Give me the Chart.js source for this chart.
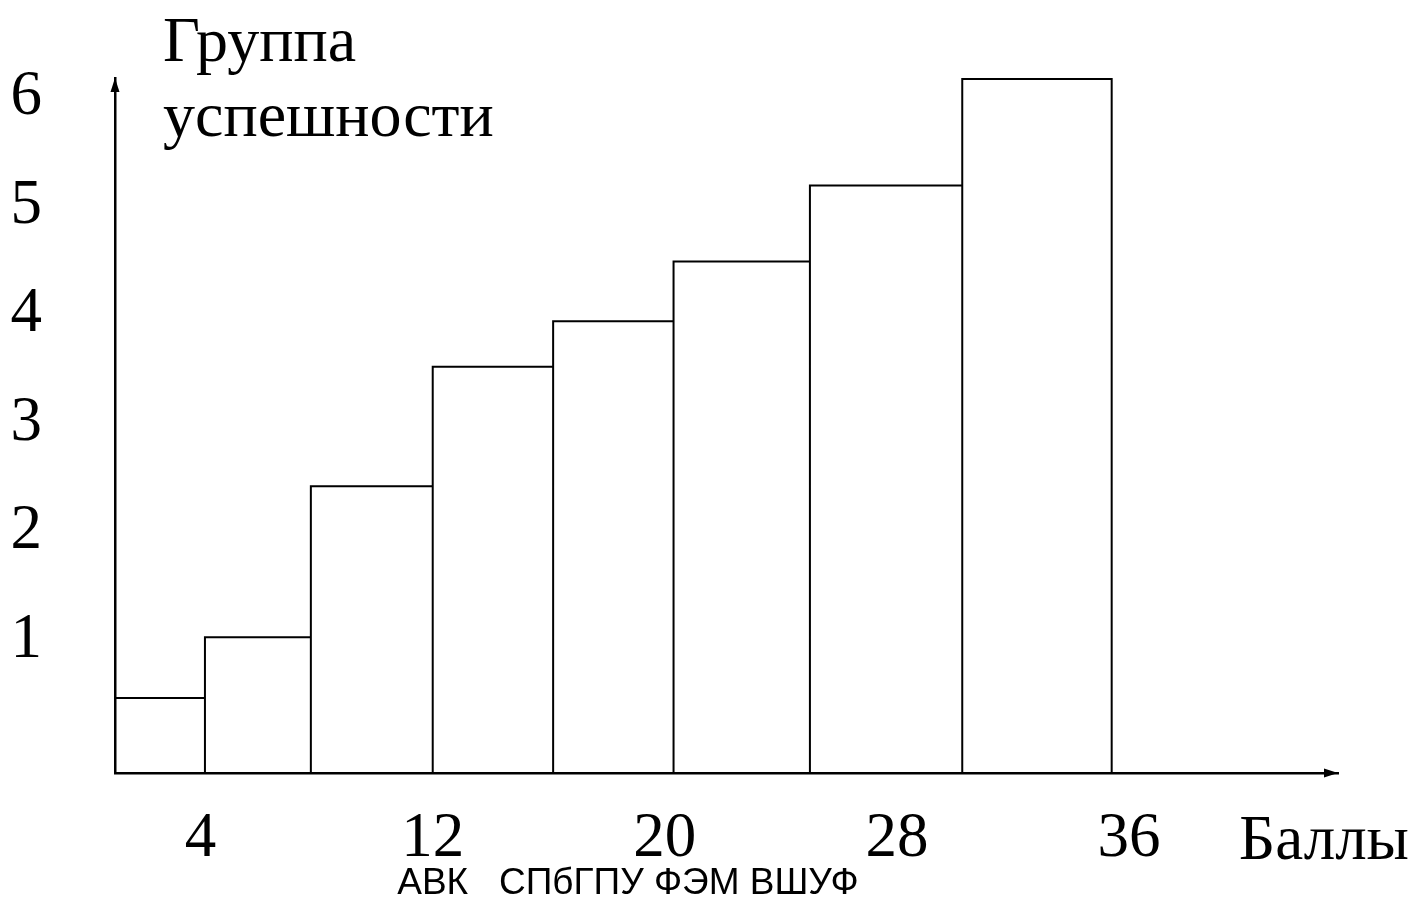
<!DOCTYPE html>
<html>
<head>
<meta charset="utf-8">
<script src="https://cdn.jsdelivr.net/npm/chart.js@4"></script>
<style>
    body { margin: 0; background: #fff; }
    canvas { display: block; }
</style>
</head>
<body>
<canvas id="successchart" width="1413" height="913"></canvas>
<script>
//Chart data
const scoreEdges = [1.05, 4.15, 7.8, 12, 16.15, 20.3, 25, 30.25, 35.4];
const groupLevels = [0.47, 1.03, 2.42, 3.52, 3.94, 4.49, 5.19, 6.17];
const yTickValues = [1, 2, 3, 4, 5, 6];
const xTickValues = [4, 12, 20, 28, 36];
const yaxisname = ["Группа", "успешности"];
const xaxisname = "Баллы";
const schoolsCaption = "АВК   СПбГПУ ФЭМ ВШУФ";

const yMin = -0.22, yMax = 6.18;
const xMin = 1.05, xMax = 43.2;

// one outline: every step goes down to the axis, like separate boxes
const outline = [];
groupLevels.forEach((level, i) => {
    outline.push(
        { x: scoreEdges[i], y: yMin },
        { x: scoreEdges[i], y: level },
        { x: scoreEdges[i + 1], y: level },
        { x: scoreEdges[i + 1], y: yMin }
    );
});

const serif = "'Liberation Serif', 'Times New Roman', serif";

// arrows on the axes and the loose texts
const axisDecor = {
    id: "axisDecor",
    afterDraw(chart) {
        const ctx = chart.ctx;
        const area = chart.chartArea;
        ctx.save();
        ctx.fillStyle = "#000";
        // y arrow
        ctx.beginPath();
        ctx.moveTo(area.left, area.top);
        ctx.lineTo(area.left - 4.5, area.top + 14);
        ctx.lineTo(area.left + 4.5, area.top + 14);
        ctx.closePath();
        ctx.fill();
        // x arrow
        ctx.beginPath();
        ctx.moveTo(area.right, area.bottom);
        ctx.lineTo(area.right - 14, area.bottom - 4.5);
        ctx.lineTo(area.right - 14, area.bottom + 4.5);
        ctx.closePath();
        ctx.fill();

        ctx.font = "64px " + serif;
        ctx.textAlign = "left";
        ctx.textBaseline = "alphabetic";
        ctx.fillText(yaxisname[0], 163, 61);
        ctx.fillText(yaxisname[1], 163, 136);

        ctx.font = "63px " + serif;
        ctx.textAlign = "center";
        ctx.fillText(xaxisname, 1324, 859);

        ctx.font = "37px 'Liberation Sans', Arial, sans-serif";
        ctx.textBaseline = "middle";
        ctx.fillText(schoolsCaption, 628, 884);
        ctx.restore();
    }
};

const ctx = document.getElementById("successchart");
new Chart(ctx, {
    type: "scatter",
    data: {
        datasets: [
            {
                label: "Группа успешности",
                data: outline,
                showLine: true,
                borderColor: "#000",
                borderWidth: 2,
                pointRadius: 0,
                tension: 0,
                fill: false,
                clip: false
            }
        ]
    },
    options: {
        responsive: false,
        animation: false,
        layout: {
            padding: { top: 78, right: 75, left: 0, bottom: 0 }
        },
        scales: {
            x: {
                type: "linear",
                min: xMin,
                max: xMax,
                afterBuildTicks: (scale) => { scale.ticks = xTickValues.map(v => ({ value: v })); },
                afterFit: (scale) => {
                    scale.height = 140;
                    scale.paddingLeft = 0;
                    scale.paddingRight = 0;
                },
                ticks: {
                    color: "#000",
                    autoSkip: false,
                    maxRotation: 0,
                    padding: 29,
                    font: { family: serif, size: 63 }
                },
                grid: { display: false, drawTicks: false },
                border: { display: true, color: "#000", width: 2.5 }
            },
            y: {
                min: yMin,
                max: yMax,
                afterBuildTicks: (scale) => { scale.ticks = yTickValues.map(v => ({ value: v })); },
                afterFit: (scale) => {
                    scale.width = 115;
                    scale.paddingTop = 0;
                    scale.paddingBottom = 0;
                },
                ticks: {
                    color: "#000",
                    crossAlign: "near",
                    padding: 73,
                    font: { family: serif, size: 63 }
                },
                grid: { display: false, drawTicks: false },
                border: { display: true, color: "#000", width: 2.5 }
            }
        },
        plugins: {
            legend: { display: false },
            tooltip: { enabled: false },
            title: { display: false }
        }
    },
    plugins: [axisDecor]
});
</script>
</body>
</html>
